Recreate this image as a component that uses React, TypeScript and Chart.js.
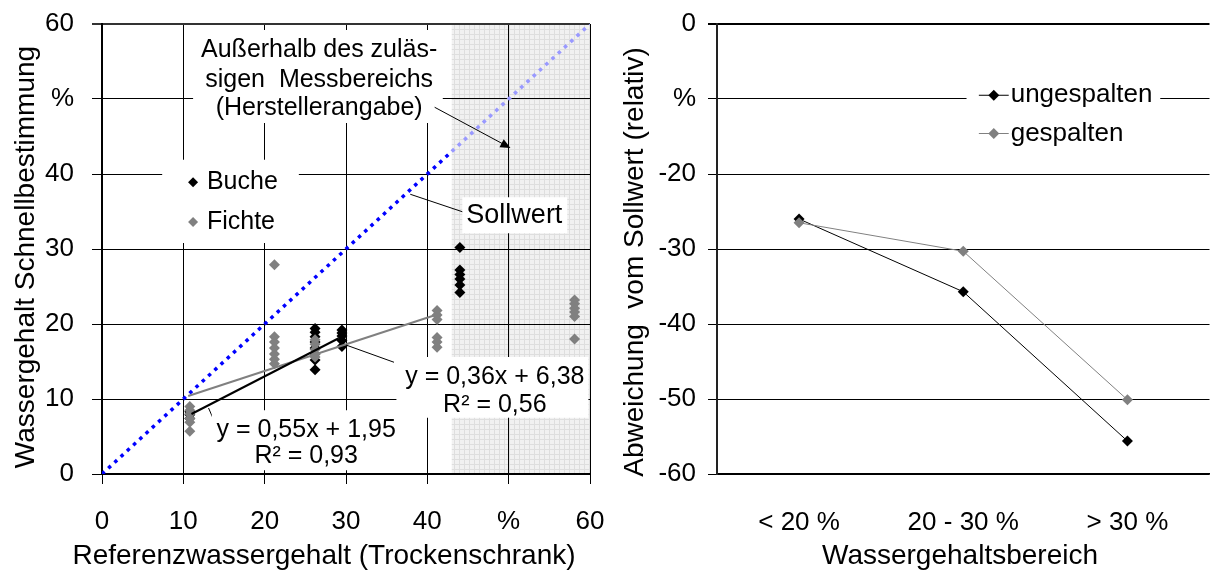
import React, { useEffect, useRef } from 'react';
import { Chart, registerables } from 'chart.js';

Chart.register(...registerables);

const FONT = "'Liberation Sans', Arial, Helvetica, sans-serif";

// ---------- Left chart data ----------
const xTickValues = [0, 10, 20, 30, 40, 50, 60];
const percentTick = 50; // tick shown as "%"

const bucheRefX = [10.8, 26.2, 29.5, 44.0];
const bucheValues = [
  [7.4, 7.9, 8.3],
  [19.4, 18.9, 18.3, 17.6, 16.8, 16.0, 15.2, 13.9],
  [19.2, 18.8, 18.4, 17.8, 17.0],
  [30.2, 27.2, 26.6, 26.0, 25.2, 24.2],
];

const fichteRefX = [10.8, 21.2, 26.2, 41.2, 58.1];
const fichteValues = [
  [9.0, 8.5, 8.0, 7.4, 6.9, 5.7],
  [27.9, 18.3, 17.6, 16.8, 16.0, 15.3, 14.7],
  [17.9, 17.3, 16.6, 16.0, 15.6],
  [21.8, 21.2, 20.6, 18.2, 17.6, 16.9],
  [23.2, 22.7, 22.1, 21.6, 21.0, 18.0],
];

const bucheTrendX = [11.0, 29.1];
const bucheTrendY = [8.0, 18.1];
const fichteTrendX = [10.6, 41.0];
const fichteTrendY = [10.4, 21.2];

const sollwertX = [0, 43, 60];
const sollwertY = [0, 43, 60];
const outsideRangeFrom = 43; // start of shaded area (x)
const outsideRangeTo = 60;

// ---------- Right chart data ----------
const categories = ['< 20 %', '20 - 30 %', '> 30 %'];
const ungespalten = [-26.0, -35.7, -55.6];
const gespalten = [-26.5, -30.3, -50.1];
const rightPercentTick = -10;

// ---------- helpers ----------
function groupsToPoints(xs: number[], groups: number[][]) {
  const pts: { x: number; y: number }[] = [];
  xs.forEach((x, i) => groups[i].forEach((y) => pts.push({ x, y })));
  return pts;
}
function zip(xs: number[], ys: number[]) {
  return xs.map((x, i) => ({ x, y: ys[i] }));
}
function diamond(ctx: CanvasRenderingContext2D, x: number, y: number, r: number, color: string) {
  ctx.save();
  ctx.fillStyle = color;
  ctx.beginPath();
  ctx.moveTo(x, y - r);
  ctx.lineTo(x + r, y);
  ctx.lineTo(x, y + r);
  ctx.lineTo(x - r, y);
  ctx.closePath();
  ctx.fill();
  ctx.restore();
}
function line(ctx: CanvasRenderingContext2D, x1: number, y1: number, x2: number, y2: number, color = '#000', w = 1) {
  ctx.save();
  ctx.strokeStyle = color;
  ctx.lineWidth = w;
  ctx.beginPath();
  ctx.moveTo(x1, y1);
  ctx.lineTo(x2, y2);
  ctx.stroke();
  ctx.restore();
}

let shadePattern: CanvasPattern | null = null;
function getPattern(ctx: CanvasRenderingContext2D) {
  if (shadePattern) return shadePattern;
  const c = document.createElement('canvas');
  c.width = 5;
  c.height = 5;
  const p = c.getContext('2d')!;
  p.fillStyle = '#f1f1f1';
  p.fillRect(0, 0, 5, 5);
  p.fillStyle = '#dedede';
  p.fillRect(4, 0, 1, 5);
  p.fillRect(0, 4, 5, 1);
  shadePattern = ctx.createPattern(c, 'repeat');
  return shadePattern;
}

const leftDecor = {
  id: 'leftDecor',
  beforeDraw(chart: any) {
    const { ctx, scales } = chart;
    const x0 = scales.x.getPixelForValue(outsideRangeFrom);
    const x1 = scales.x.getPixelForValue(outsideRangeTo);
    const y0 = scales.y.getPixelForValue(60);
    const y1 = scales.y.getPixelForValue(0);
    ctx.save();
    ctx.fillStyle = getPattern(ctx) || '#f0f0f0';
    ctx.fillRect(x0, y0, x1 - x0, y1 - y0);
    ctx.restore();
  },
  afterDatasetsDraw(chart: any) {
    const { ctx, scales } = chart;
    const X = (v: number) => scales.x.getPixelForValue(v);
    const Y = (v: number) => scales.y.getPixelForValue(v);
    const box = (xa: number, xb: number, ya: number, yb: number) => {
      ctx.save();
      ctx.fillStyle = '#fff';
      ctx.fillRect(X(xa), Y(ya), X(xb) - X(xa), Y(yb) - Y(ya));
      ctx.restore();
    };
    const text = (t: string, x: number, y: number, size: number, align: CanvasTextAlign = 'center') => {
      ctx.save();
      ctx.fillStyle = '#000';
      ctx.font = `${size}px ${FONT}`;
      ctx.textAlign = align;
      ctx.textBaseline = 'middle';
      ctx.fillText(t, X(x), Y(y));
      ctx.restore();
    };

    // annotation: outside measuring range
    box(11.2, 41.9, 59.2, 46.8);
    text('Außerhalb des zuläs-', 26.7, 56.5, 25);
    text('sigen  Messbereichs', 26.7, 52.5, 25);
    text('(Herstellerangabe)', 26.7, 48.8, 25);
    // arrow
    const ax1 = X(40.9), ay1 = Y(48.9), ax2 = X(50.0), ay2 = Y(43.6);
    line(ctx, ax1, ay1, ax2, ay2, '#000', 1);
    const ang = Math.atan2(ay2 - ay1, ax2 - ax1);
    ctx.save();
    ctx.fillStyle = '#000';
    ctx.beginPath();
    ctx.moveTo(ax2 + 2 * Math.cos(ang), ay2 + 2 * Math.sin(ang));
    ctx.lineTo(ax2 - 8 * Math.cos(ang) + 4.5 * Math.sin(ang), ay2 - 8 * Math.sin(ang) - 4.5 * Math.cos(ang));
    ctx.lineTo(ax2 - 8 * Math.cos(ang) - 4.5 * Math.sin(ang), ay2 - 8 * Math.sin(ang) + 4.5 * Math.cos(ang));
    ctx.closePath();
    ctx.fill();
    ctx.restore();

    // legend
    box(7.4, 24.2, 41.9, 30.8);
    diamond(ctx, X(11.2), Y(38.9), 5, '#000');
    text('Buche', 12.9, 38.9, 25, 'left');
    diamond(ctx, X(11.2), Y(33.6), 5, '#808080');
    text('Fichte', 12.9, 33.6, 25, 'left');

    // Sollwert label
    line(ctx, X(37.9), Y(37.3), X(44.5), Y(34.9), '#000', 1);
    box(44.3, 57.2, 36.9, 32.1);
    text('Sollwert', 50.7, 34.5, 27);

    // Buche regression
    line(ctx, X(13.1), Y(8.8), X(13.9), Y(6.8), '#000', 1);
    box(13.5, 36.6, 8.5, 0.5);
    text('y = 0,55x + 1,95', 25.1, 5.9, 25);
    text('R² = 0,93', 25.1, 2.4, 25);

    // Fichte regression
    line(ctx, X(30), Y(17.2), X(35.9), Y(14.9), '#000', 1);
    box(36.2, 59.8, 15.6, 7.5);
    text('y = 0,36x + 6,38', 48.3, 12.9, 25);
    text('R² = 0,56', 48.3, 9.2, 25);
  },
  afterDraw(chart: any) {
    const { ctx } = chart;
    ctx.save();
    ctx.fillStyle = '#000';
    ctx.font = `28px ${FONT}`;
    ctx.textAlign = 'center';
    ctx.textBaseline = 'middle';
    ctx.fillText('Referenzwassergehalt (Trockenschrank)', 324, 556);
    ctx.translate(26, 257);
    ctx.rotate(-Math.PI / 2);
    ctx.fillText('Wassergehalt Schnellbestimmung', 0, 0);
    ctx.restore();
  },
};

const rightDecor = {
  id: 'rightDecor',
  afterDatasetsDraw(chart: any) {
    const { ctx, scales } = chart;
    const X = (v: number) => scales.x.getPixelForValue(v);
    const Y = (v: number) => scales.y.getPixelForValue(v);
    ctx.save();
    ctx.fillStyle = '#fff';
    ctx.fillRect(X(1.02), Y(-7.5), X(2.2) - X(1.02), Y(-16.8) - Y(-7.5));
    ctx.restore();
    const items = [
      { label: 'ungespalten', color: '#000', y: -9.5 },
      { label: 'gespalten', color: '#808080', y: -14.6 },
    ];
    items.forEach((it) => {
      line(ctx, X(1.095), Y(it.y), X(1.277), Y(it.y), it.color, 1);
      diamond(ctx, X(1.186), Y(it.y), 5.5, it.color);
      ctx.save();
      ctx.fillStyle = '#000';
      ctx.font = `26px ${FONT}`;
      ctx.textAlign = 'left';
      ctx.textBaseline = 'middle';
      ctx.fillText(it.label, X(1.289), Y(it.y));
      ctx.restore();
    });
  },
  afterDraw(chart: any) {
    const { ctx } = chart;
    ctx.save();
    ctx.fillStyle = '#000';
    ctx.font = `28px ${FONT}`;
    ctx.textAlign = 'center';
    ctx.textBaseline = 'middle';
    ctx.fillText('Wassergehaltsbereich', 350, 556);
    ctx.translate(25, 262);
    ctx.rotate(-Math.PI / 2);
    ctx.fillText('Abweichung  vom Sollwert (relativ)', 0, 0);
    ctx.restore();
  },
};

export default function App() {
  const leftRef = useRef<HTMLCanvasElement>(null);
  const rightRef = useRef<HTMLCanvasElement>(null);

  useEffect(() => {
    const tickFont = { family: FONT, size: 26 };
    const fitX = (s: any) => { s.height = 98; s.paddingLeft = 0; s.paddingRight = 0; };
    const left = new Chart(leftRef.current!, {
      type: 'scatter',
      data: {
        datasets: [
          {
            label: 'Trend Buche',
            type: 'line',
            data: zip(bucheTrendX, bucheTrendY),
            borderColor: '#000',
            borderWidth: 2,
            pointRadius: 0,
            showLine: true,
            order: 1,
          } as any,
          {
            label: 'Trend Fichte',
            type: 'line',
            data: zip(fichteTrendX, fichteTrendY),
            borderColor: '#808080',
            borderWidth: 2,
            pointRadius: 0,
            showLine: true,
            order: 2,
          },
          {
            label: 'Fichte',
            data: groupsToPoints(fichteRefX, fichteValues),
            pointStyle: 'rectRot',
            pointRadius: 5.5,
            backgroundColor: '#808080',
            borderColor: '#808080',
            borderWidth: 0,
            order: 3,
          },
          {
            label: 'Buche',
            data: groupsToPoints(bucheRefX, bucheValues),
            pointStyle: 'rectRot',
            pointRadius: 5.5,
            backgroundColor: '#000',
            borderColor: '#000',
            borderWidth: 0,
            order: 4,
          },
          {
            label: 'Sollwert',
            type: 'line',
            data: zip(sollwertX, sollwertY),
            borderColor: '#0000ff',
            borderWidth: 3.5,
            borderDash: [3.5, 5],
            pointRadius: 0,
            showLine: true,
            order: 5,
            segment: {
              borderColor: (c: any) => (c.p0.parsed.x >= outsideRangeFrom ? '#9999ff' : '#0000ff'),
            },
          },
        ],
      },
      options: {
        responsive: false,
        animation: false,
        events: [],
        layout: { padding: { top: 24, right: 20, left: 0, bottom: 0 } },
        plugins: { legend: { display: false }, tooltip: { enabled: false } },
        scales: {
          x: {
            type: 'linear',
            min: 0,
            max: 60,
            afterFit: fitX,
            afterBuildTicks: (s: any) => { s.ticks = xTickValues.map((v) => ({ value: v })); },
            ticks: {
              font: tickFont,
              color: '#000',
              padding: 22,
              maxRotation: 0,
              autoSkip: false,
              callback: (v: any) => (v === percentTick ? '%' : String(v)),
            },
            grid: { color: '#000', lineWidth: 1, tickLength: 10, drawTicks: true },
            border: { color: '#000', width: 2 },
          },
          y: {
            type: 'linear',
            min: 0,
            max: 60,
            afterFit: (s: any) => { s.width = 102; s.paddingTop = 0; s.paddingBottom = 0; },
            afterBuildTicks: (s: any) => { s.ticks = xTickValues.map((v) => ({ value: v })); },
            ticks: {
              font: tickFont,
              color: '#000',
              padding: 18,
              autoSkip: false,
              callback: (v: any) => (v === percentTick ? '%' : String(v)),
            },
            grid: {
              color: (c: any) => (c.tick && c.tick.value === 60 ? '#333' : '#000'),
              lineWidth: (c: any) => (c.tick && c.tick.value === 60 ? 2 : 1),
              tickLength: 10,
              drawTicks: true,
            },
            border: { color: '#000', width: 2 },
          },
        },
      },
      plugins: [leftDecor],
    });

    const right = new Chart(rightRef.current!, {
      type: 'line',
      data: {
        labels: categories,
        datasets: [
          {
            label: 'ungespalten',
            data: ungespalten,
            borderColor: '#000',
            backgroundColor: '#000',
            borderWidth: 1,
            pointStyle: 'rectRot',
            pointRadius: 5.5,
            pointBorderWidth: 0,
            order: 2,
          },
          {
            label: 'gespalten',
            data: gespalten,
            borderColor: '#808080',
            backgroundColor: '#808080',
            borderWidth: 1,
            pointStyle: 'rectRot',
            pointRadius: 5.5,
            pointBorderWidth: 0,
            order: 1,
          },
        ],
      },
      options: {
        responsive: false,
        animation: false,
        events: [],
        layout: { padding: { top: 24, right: 3, left: 0, bottom: 0 } },
        plugins: { legend: { display: false }, tooltip: { enabled: false } },
        scales: {
          x: {
            offset: true,
            afterFit: fitX,
            ticks: { font: tickFont, color: '#000', padding: 33, maxRotation: 0, autoSkip: false },
            grid: { display: false, drawTicks: false },
            border: { display: true, color: '#000', width: 1.5 },
          },
          y: {
            min: -60,
            max: 0,
            afterFit: (s: any) => { s.width = 107; s.paddingTop = 0; s.paddingBottom = 0; },
            ticks: {
              stepSize: 10,
              font: tickFont,
              color: '#000',
              padding: 12,
              callback: (v: any) => (v === rightPercentTick ? '%' : String(v)),
            },
            grid: {
              color: '#000',
              lineWidth: (c: any) => (c.tick && c.tick.value === 0 ? 2 : 1),
              tickLength: 9,
              drawTicks: true,
            },
            border: { color: '#222', width: 2 },
          },
        },
      },
      plugins: [rightDecor],
    });

    return () => {
      left.destroy();
      right.destroy();
    };
  }, []);

  return (
    <div style={{ position: 'absolute', left: 0, top: 0, width: 1215, height: 572, background: '#fff', overflow: 'hidden' }}>
      <canvas ref={leftRef} width={610} height={572} style={{ position: 'absolute', left: 0, top: 0, width: 610, height: 572 }} />
      <canvas ref={rightRef} width={605} height={572} style={{ position: 'absolute', left: 610, top: 0, width: 605, height: 572 }} />
    </div>
  );
}
